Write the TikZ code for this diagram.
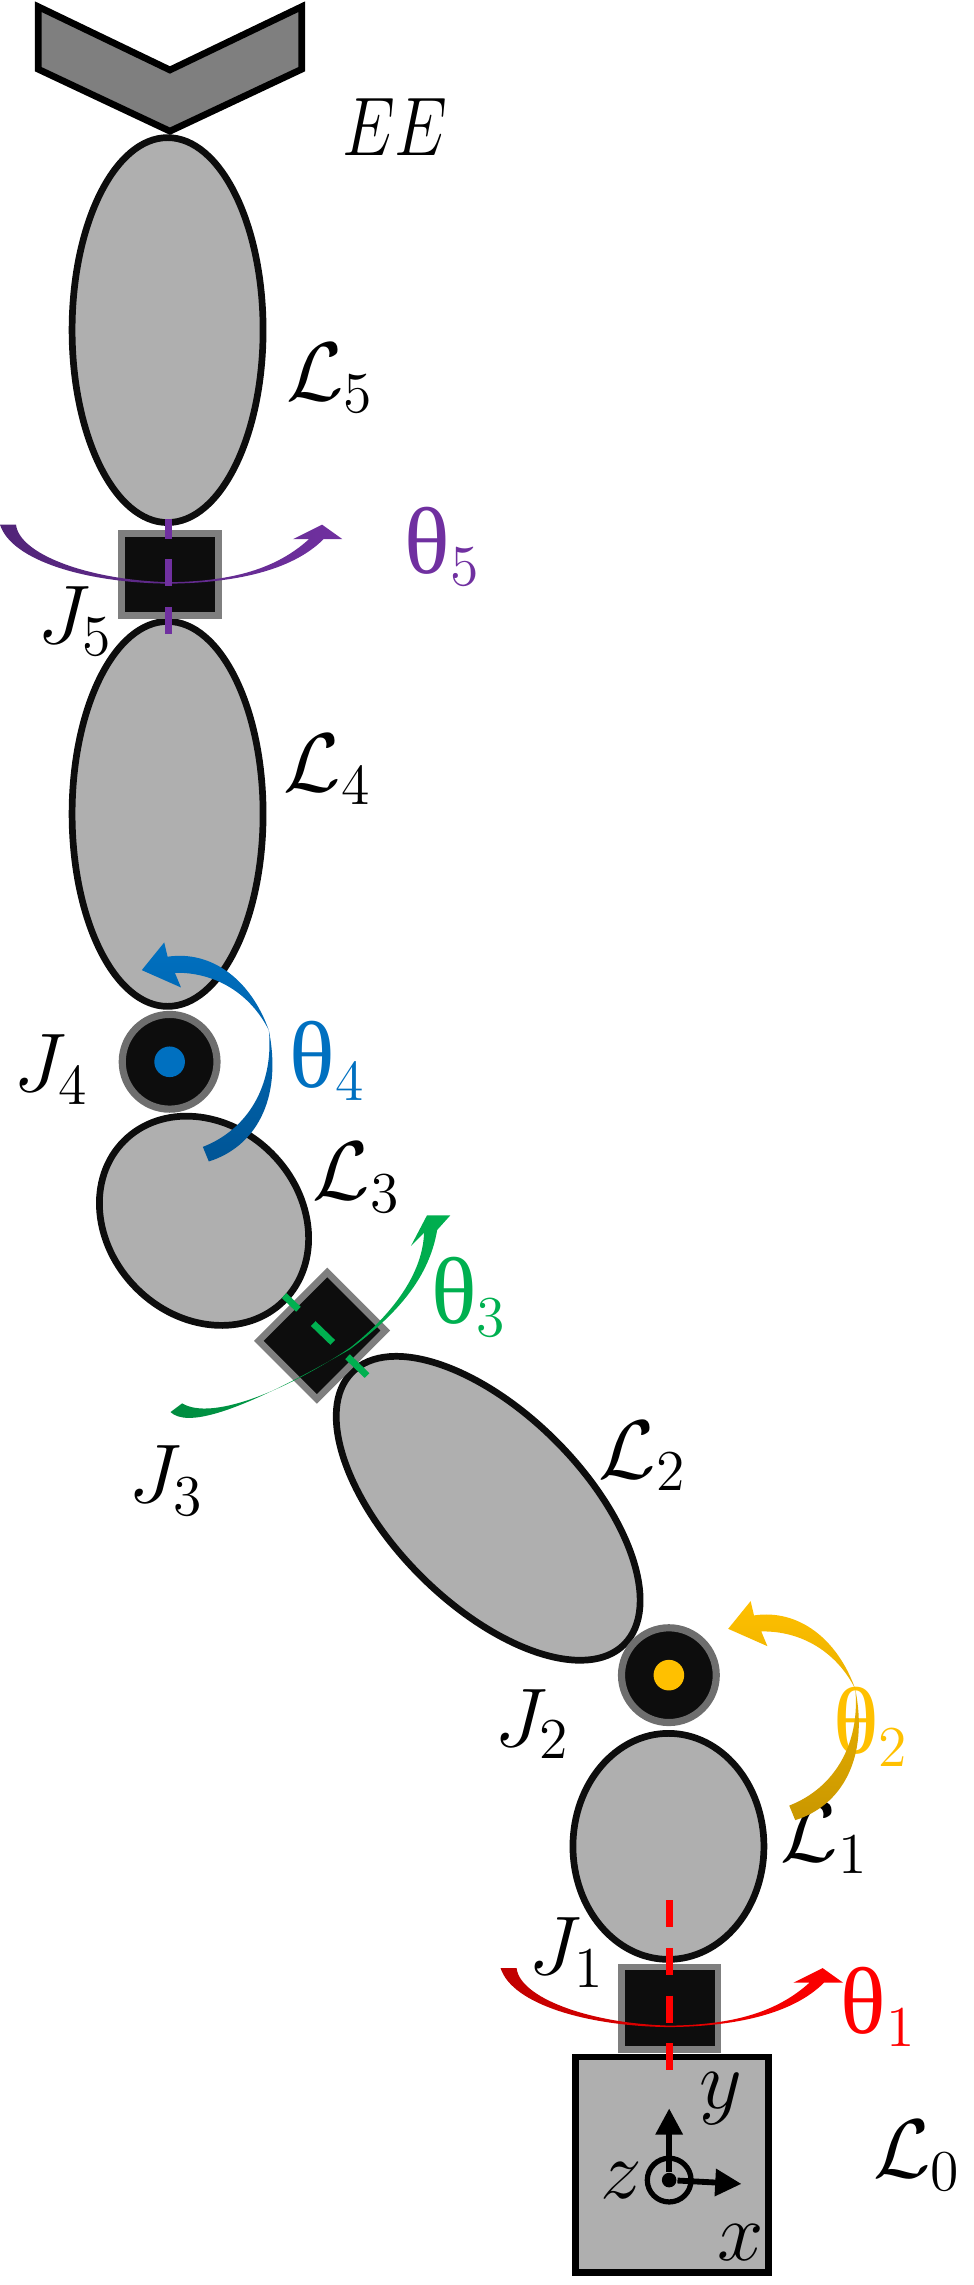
\documentclass[tikz,border=0pt]{standalone}
\usepackage{fontspec}
\usetikzlibrary{shapes.geometric,arrows.meta}
\newfontfamily\thetafont[Scale=1.14]{Liberation Serif}

\definecolor{linkgray}{HTML}{AFAFAF}
\definecolor{jointblack}{HTML}{0D0D0D}
\definecolor{jointrim}{HTML}{7F7F7F}
\definecolor{ringrim}{HTML}{6E6E6E}
\definecolor{thetaA}{HTML}{FF0000}
\definecolor{thetaAdark}{HTML}{C00000}
\definecolor{thetaB}{HTML}{FFC000}
\definecolor{thetaBdark}{HTML}{C99700}
\definecolor{thetaC}{HTML}{00B050}
\definecolor{thetaCdark}{HTML}{008C40}
\definecolor{thetaD}{HTML}{0070C0}
\definecolor{thetaDdark}{HTML}{005596}
\definecolor{thetaE}{HTML}{7030A0}
\definecolor{thetaEdark}{HTML}{512478}

% twist arrow about a vertical axis, and swing arrow about a pin
\newcommand{\twistarc}{(0,360) .. controls (8,385) and (60,400) .. (116,400.5)
  .. controls (160,400) and (200,392) .. (222,370) -- (235,370) -- (221,360) -- (201,370) -- (212,370)
  .. controls (190,390) and (160,399) .. (116,399.5) .. controls (60,398) and (13,380) .. (11,360) -- cycle}
\newcommand{\swingarc}{(143.3,797) .. controls (175,787) and (194,755) .. (184.5,707)
  .. controls (172,672) and (145,652) .. (115,656.5) -- (112.7,646.7) -- (97.3,665.7) -- (124.2,677.6) -- (120,667.5)
  .. controls (148,667) and (172,682) .. (184.5,707) .. controls (188,745) and (170,775) .. (139.2,787) -- cycle}

\tikzset{
  link/.style={draw=jointblack,fill=linkgray,line width=0.046cm,ellipse,inner sep=0pt,minimum width=1.31cm,minimum height=2.64cm},
  shortlink/.style={link,minimum width=1.31cm,minimum height=1.55cm},
  slide/.style={draw=jointrim,fill=jointblack,line width=0.046cm,rectangle,inner sep=0pt,minimum width=0.664cm,minimum height=0.564cm},
  pin/.style={draw=ringrim,fill=jointblack,line width=0.049cm,circle,inner sep=0pt,minimum size=0.65cm},
  dot/.style={circle,inner sep=0pt,minimum size=0.21cm},
  lbl/.style={inner sep=0pt,font=\LARGE,scale=0.94},
  axisline/.style={line width=0.046cm,dash pattern=on 0.186cm off 0.141cm},
  frameline/.style={line width=0.04cm,-{Triangle[length=0.18cm,width=0.18cm]}}
}

\begin{document}
\begin{tikzpicture}[x=0.01cm,y=-0.01cm]
  \useasboundingbox (0,0) rectangle (668,1568);

  % end effector
  \draw[fill=jointrim,line width=0.046cm] (26.3,4.6) -- (116.6,48) -- (207,4.6) -- (207,47.5) -- (116.6,90) -- (26.3,47.5) -- cycle;

  % links
  \node[link] (link5) at (115,226.5) {};
  \node[link] (link4) at (115,558.5) {};
  \node[shortlink,rotate=45] (link3) at (140,837.7) {};
  \node[link,rotate=45] (link2) at (335,1035) {};
  \node[shortlink] (link1) at (458.7,1267) {};
  \node[draw=black,fill=linkgray,line width=0.046cm,rectangle,inner sep=0pt,minimum width=1.325cm,minimum height=1.48cm] (base) at (461,1485.5) {};

  % joints
  \node[slide] (joint5) at (116.5,394.2) {};
  \node[pin] (joint4) at (116.4,728.6) {};
  \node[slide,rotate=45] (joint3) at (221,916.5) {};
  \node[pin] (joint2) at (459,1149.5) {};
  \node[slide] (joint1) at (459.5,1378) {};
  \node[dot,fill=thetaD] (pin4) at (joint4) {};
  \node[dot,fill=thetaB] (pin2) at (joint2) {};

  % base frame
  \coordinate (ytip) at (459.2,1446.8);
  \coordinate (xtip) at (508.8,1498.6);
  \node[circle,draw=black,line width=0.036cm,inner sep=0pt,minimum size=0.3cm] (ring) at (459.2,1496) {};
  \node[dot,fill=black,minimum size=0.1cm] (origin) at (ring) {};
  \draw[frameline] (origin) -- (ytip);
  \draw[frameline] (origin) -- (xtip);

  % labels
  \node[lbl,xscale=0.81] (ee) at (271,87) {$EE$};
  \node[lbl] (name5) at (226.5,259.5) {$\mathcal{L}_5$};
  \node[lbl] (name4) at (225,528) {$\mathcal{L}_4$};
  \node[lbl] (name3) at (245,808) {$\mathcal{L}_3$};
  \node[lbl] (name2) at (441,999) {$\mathcal{L}_2$};
  \node[lbl] (name1) at (566,1262) {$\mathcal{L}_1$};
  \node[lbl] (name0) at (629.5,1479) {$\mathcal{L}_0$};
  \node[lbl] (tag5) at (52,426) {$J_5$};
  \node[lbl] (tag4) at (35,734) {$J_4$};
  \node[lbl] (tag3) at (114,1016) {$J_3$};
  \node[lbl] (tag2) at (365,1183) {$J_2$};
  \node[lbl] (tag1) at (389,1340) {$J_1$};
  \node[lbl] (ylabel) at (495,1440) {$y$};
  \node[lbl] (zlabel) at (426,1496) {$z$};
  \node[lbl] (xlabel) at (508,1539) {$x$};
  \node[lbl,text=thetaE] (angle5) at (304,375) {{\thetafont θ}$_5$};
  \node[lbl,text=thetaD] (angle4) at (225,728) {{\thetafont θ}$_4$};
  \node[lbl,text=thetaC] (angle3) at (322,890) {{\thetafont θ}$_3$};
  \node[lbl,text=thetaB] (angle2) at (598,1185) {{\thetafont θ}$_2$};
  \node[lbl,text=thetaA] (angle1) at (603,1377) {{\thetafont θ}$_1$};

  % rotation arrows
  \shade[left color=thetaEdark,right color=thetaE] \twistarc;
  \begin{scope}[shift={(343.5,990.5)}]
    \shade[left color=thetaAdark,right color=thetaA] \twistarc;
  \end{scope}
  \shade[top color=thetaD,bottom color=thetaDdark] \swingarc;
  \begin{scope}[shift={(402.4,452)}]
    \shade[top color=thetaB,bottom color=thetaBdark] \swingarc;
  \end{scope}
  \shade[left color=thetaCdark,right color=thetaC] (117,969) .. controls (128,979) and (160,972) .. (240,926)
    .. controls (268,905) and (294,880) .. (300,844) -- (309,834) -- (293,834) -- (282,855) -- (291,846)
    .. controls (290,875) and (268,903) .. (240,925) .. controls (195,955) and (145,975) .. (125,963) -- cycle;

  % rotation axes
  \coordinate (axis5a) at (115.5,356);
  \coordinate (axis5b) at (115.5,436.6);
  \coordinate (axis3a) at (195,889);
  \coordinate (axis3b) at (252.5,944.5);
  \coordinate (axis1a) at (459.5,1304);
  \coordinate (axis1b) at (459.5,1421);
  \draw[axisline,thetaE,dash phase=0.05cm] (axis5a) -- (axis5b);
  \draw[axisline,thetaC,dash phase=0.05cm] (axis3a) -- (axis3b);
  \draw[axisline,thetaA] (axis1a) -- (axis1b);
\end{tikzpicture}
\end{document}
